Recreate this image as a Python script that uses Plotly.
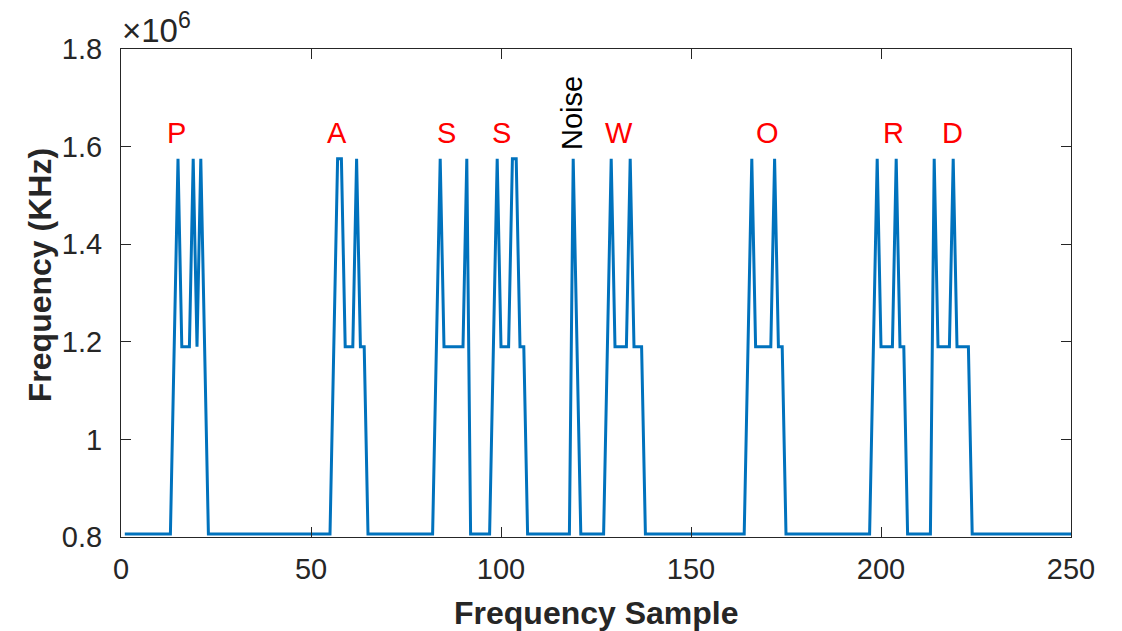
import plotly.graph_objects as go

# Level values (Hz)
LEVELS = {"L": 806000, "M": 1190000, "H": 1575000}

# Sample-by-sample level codes, samples 1..250 (10 per chunk)
signal_code = "".join([
    "LLLLLLLLLL",  # 1-10
    "LLLMHMMMHM",  # 11-20
    "HMLLLLLLLL",  # 21-30
    "LLLLLLLLLL",  # 31-40
    "LLLLLLLLLL",  # 41-50
    "LLLLLMHHMM",  # 51-60
    "MHMMLLLLLL",  # 61-70
    "LLLLLLLLLL",  # 71-80
    "LLMHMMMMMM",  # 81-90
    "HLLLLLLMHM",  # 91-100
    "MMHHMMLLLL",  # 101-110
    "LLLLLLLLHM",  # 111-120
    "LLLLLLLMHM",  # 121-130
    "MMMHMMMLLL",  # 131-140
    "LLLLLLLLLL",  # 141-150
    "LLLLLLLLLL",  # 151-160
    "LLLLMHMMMM",  # 161-170
    "MHMMLLLLLL",  # 171-180
    "LLLLLLLLLL",  # 181-190
    "LLLLLLLMHM",  # 191-200
    "MMMHMMLLLL",  # 201-210
    "LLLHMMMMHM",  # 211-220
    "MMMLLLLLLL",  # 221-230
    "LLLLLLLLLL",  # 231-240
    "LLLLLLLLLL",  # 241-250
])
samples = list(range(1, len(signal_code) + 1))
frequency = [LEVELS[c] for c in signal_code]

# Letter labels
label_text = ["P", "A", "S", "S", "W", "O", "R", "D"]
label_x = [14.5, 56.8, 85.6, 100.1, 131.1, 170.0, 203.2, 218.9]
label_y = [1.628e6] * len(label_text)
noise_text = "Noise"
noise_x = 118.7
noise_y = 1.669e6

x_ticks = [0, 50, 100, 150, 200, 250]
y_ticks = [0.8e6, 1.0e6, 1.2e6, 1.4e6, 1.6e6, 1.8e6]
y_ticktext = ["0.8", "1", "1.2", "1.4", "1.6", "1.8"]

FONT = "Liberation Sans, Arial, Helvetica, sans-serif"
AXC = "#262626"

fig = go.Figure()
fig.add_trace(go.Scatter(
    x=samples, y=frequency, mode="lines",
    line=dict(color="#0072BD", width=3),
    showlegend=False, hoverinfo="skip",
))

for t, x, y in zip(label_text, label_x, label_y):
    fig.add_annotation(x=x, y=y, xref="x", yref="y", text=t, showarrow=False,
                       font=dict(family=FONT, size=29, color="#FF0000"),
                       xanchor="center", yanchor="middle")

fig.add_annotation(x=noise_x, y=noise_y, xref="x", yref="y", text=noise_text,
                   showarrow=False, textangle=-90,
                   font=dict(family=FONT, size=29, color="#000000"),
                   xanchor="center", yanchor="middle")

# x10^6 exponent label
fig.add_annotation(x=0, y=1, xref="paper", yref="paper",
                   text="×10<sup>6</sup>", showarrow=False,
                   xanchor="left", yanchor="bottom", xshift=-1, yshift=-2,
                   font=dict(family=FONT, size=33, color=AXC))

# axis titles
fig.add_annotation(x=0.5, y=-0.155, xref="paper", yref="paper",
                   text="<b>Frequency Sample</b>", showarrow=False,
                   xanchor="center", yanchor="middle",
                   font=dict(family=FONT, size=32, color=AXC))
fig.add_annotation(x=-0.085, y=0.537, xref="paper", yref="paper",
                   text="<b>Frequency (KHz)</b>", showarrow=False, textangle=-90,
                   xanchor="center", yanchor="middle",
                   font=dict(family=FONT, size=32, color=AXC))

axis_common = dict(
    showgrid=False, zeroline=False, showline=True, linecolor=AXC, linewidth=1,
    mirror="allticks", ticks="inside", ticklen=10, tickcolor=AXC, tickwidth=1,
    tickfont=dict(family=FONT, size=29, color=AXC),
)

# page body has an 8px default margin, so the figure is sized/offset to compensate
fig.update_layout(
    width=1114, height=623,
    margin=dict(l=113, r=51, t=41, b=94),
    paper_bgcolor="white", plot_bgcolor="white",
    xaxis=dict(range=[0, 250], tickvals=x_ticks, ticklabelstandoff=6, **axis_common),
    yaxis=dict(range=[0.8e6, 1.8e6], tickvals=y_ticks, ticktext=y_ticktext,
               ticklabelstandoff=12, **axis_common),
)

fig.write_html("out.html")
